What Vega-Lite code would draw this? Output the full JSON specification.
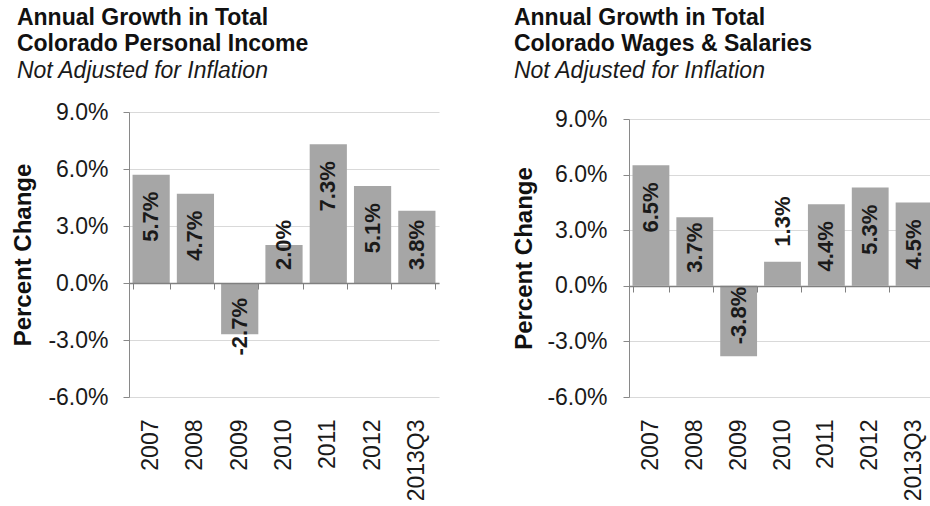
{
  "$schema": "https://vega.github.io/schema/vega-lite/v6.json",
  "padding": {"left": 11, "top": 7, "right": 0, "bottom": 0},
  "background": "white",
  "data": {"values": [
    {"panel": "income", "year": "2007", "value": 0.057},
    {"panel": "income", "year": "2008", "value": 0.047},
    {"panel": "income", "year": "2009", "value": -0.027},
    {"panel": "income", "year": "2010", "value": 0.020},
    {"panel": "income", "year": "2011", "value": 0.073},
    {"panel": "income", "year": "2012", "value": 0.051},
    {"panel": "income", "year": "2013Q3", "value": 0.038},
    {"panel": "wages", "year": "2007", "value": 0.065},
    {"panel": "wages", "year": "2008", "value": 0.037},
    {"panel": "wages", "year": "2009", "value": -0.038},
    {"panel": "wages", "year": "2010", "value": 0.013},
    {"panel": "wages", "year": "2011", "value": 0.044},
    {"panel": "wages", "year": "2012", "value": 0.053},
    {"panel": "wages", "year": "2013Q3", "value": 0.045}
  ]},
  "spacing": 73,
  "hconcat": [
    {
      "width": 310,
      "height": 285,
      "title": {"text": ["Annual Growth in Total", "Colorado Personal Income"], "subtitle": "Not Adjusted for Inflation", "anchor": "start", "frame": "bounds", "dx": 5, "offset": 18},
      "transform": [{"filter": "datum.panel === 'income'"}],
      "encoding": {
        "x": {"field": "year", "type": "nominal", "sort": null, "scale": {"paddingInner": 0.16, "paddingOuter": 0.08}, "axis": null},
        "y": {"field": "value", "type": "quantitative", "scale": {"domain": [-0.06, 0.09], "nice": false, "zero": false}, "axis": {"title": "Percent Change", "titleFontSize": 24, "titleFontWeight": "bold", "titleColor": "#111111", "titlePadding": 12, "values": [-0.06, -0.03, 0, 0.03, 0.06, 0.09], "format": ".1%", "labelFontSize": 23, "labelColor": "#1a1a1a", "labelPadding": 15, "tickSize": 6, "tickColor": "#898989", "domainColor": "#898989", "gridColor": "#d9d9d9", "grid": true, "zindex": 0}}
      },
      "layer": [
        {
          "mark": {"type": "bar", "color": "#a6a6a6"},
          "encoding": {
            "x": {"field": "year", "type": "nominal", "sort": null, "axis": {"orient": "bottom", "title": null, "labelAngle": -90, "labelFontSize": 23, "labelColor": "#1a1a1a", "ticks": false, "tickSize": 0, "domain": false, "grid": false, "labelPadding": 22}},
            "y2": {"datum": 0}
          }
        },
        {
          "transform": [{"filter": "datum.value >= 0.041"}],
          "mark": {"type": "text", "angle": 270, "align": "right", "baseline": "middle", "dx": -17, "fontSize": 22, "fontWeight": "bold", "color": "#1a1a1a"},
          "encoding": {
            "x": {"field": "year", "type": "nominal", "sort": null, "axis": {"orient": "bottom", "offset": -114, "labels": false, "title": null, "grid": false, "domain": true, "domainColor": "#808080", "domainWidth": 1.5, "ticks": true, "tickBand": "extent", "tickSize": 6, "tickColor": "#808080", "zindex": 2}},
            "text": {"field": "value", "type": "quantitative", "format": ".1%"}
          }
        },
        {
          "transform": [{"filter": "datum.value >= 0.015 && datum.value < 0.041"}],
          "mark": {"type": "text", "angle": 270, "align": "left", "baseline": "middle", "dx": 13, "fontSize": 22, "fontWeight": "bold", "color": "#1a1a1a"},
          "encoding": {
            "y": {"datum": 0, "type": "quantitative", "axis": {"title": "Percent Change", "titleFontSize": 24, "titleFontWeight": "bold", "titleColor": "#111111", "titlePadding": 12, "values": [-0.06, -0.03, 0, 0.03, 0.06, 0.09], "format": ".1%", "labelFontSize": 23, "labelColor": "#1a1a1a", "labelPadding": 15, "tickSize": 6, "tickColor": "#898989", "domainColor": "#898989", "gridColor": "#d9d9d9", "grid": true, "zindex": 0}},
            "text": {"field": "value", "type": "quantitative", "format": ".1%"}
          }
        },
        {
          "transform": [{"filter": "datum.value > 0 && datum.value < 0.015"}],
          "mark": {"type": "text", "angle": 270, "align": "left", "baseline": "middle", "dx": 15, "fontSize": 22, "fontWeight": "bold", "color": "#1a1a1a"},
          "encoding": {
            "text": {"field": "value", "type": "quantitative", "format": ".1%"}
          }
        },
        {
          "transform": [{"filter": "datum.value < 0 && datum.value > -0.03"}],
          "mark": {"type": "text", "angle": 270, "align": "right", "baseline": "middle", "dx": -15, "fontSize": 22, "fontWeight": "bold", "color": "#1a1a1a"},
          "encoding": {
            "y": {"datum": 0, "type": "quantitative", "axis": {"title": "Percent Change", "titleFontSize": 24, "titleFontWeight": "bold", "titleColor": "#111111", "titlePadding": 12, "values": [-0.06, -0.03, 0, 0.03, 0.06, 0.09], "format": ".1%", "labelFontSize": 23, "labelColor": "#1a1a1a", "labelPadding": 15, "tickSize": 6, "tickColor": "#898989", "domainColor": "#898989", "gridColor": "#d9d9d9", "grid": true, "zindex": 0}},
            "text": {"field": "value", "type": "quantitative", "format": ".1%"}
          }
        },
        {
          "transform": [{"filter": "datum.value <= -0.03"}],
          "mark": {"type": "text", "angle": 270, "align": "left", "baseline": "middle", "dx": 12, "fontSize": 22, "fontWeight": "bold", "color": "#1a1a1a"},
          "encoding": {
            "text": {"field": "value", "type": "quantitative", "format": ".1%"}
          }
        }
      ],
      "resolve": {"axis": {"x": "independent"}}
    },
    {
      "width": 307,
      "height": 285,
      "title": {"text": ["Annual Growth in Total", "Colorado Wages & Salaries"], "subtitle": "Not Adjusted for Inflation", "anchor": "start", "frame": "bounds", "dx": 1, "offset": 25},
      "transform": [{"filter": "datum.panel === 'wages'"}],
      "encoding": {
        "x": {"field": "year", "type": "nominal", "sort": null, "scale": {"paddingInner": 0.16, "paddingOuter": 0.08}, "axis": null},
        "y": {"field": "value", "type": "quantitative", "scale": {"domain": [-0.06, 0.09], "nice": false, "zero": false, "range": [285, 7]}, "axis": {"title": "Percent Change", "titleFontSize": 24, "titleFontWeight": "bold", "titleColor": "#111111", "titlePadding": 10, "values": [-0.06, -0.03, 0, 0.03, 0.06, 0.09], "format": ".1%", "labelFontSize": 23, "labelColor": "#1a1a1a", "labelPadding": 16, "tickSize": 6, "tickColor": "#898989", "domainColor": "#898989", "gridColor": "#d9d9d9", "grid": true, "zindex": 0}}
      },
      "layer": [
        {
          "mark": {"type": "bar", "color": "#a6a6a6"},
          "encoding": {
            "x": {"field": "year", "type": "nominal", "sort": null, "axis": {"orient": "bottom", "title": null, "labelAngle": -90, "labelFontSize": 23, "labelColor": "#1a1a1a", "ticks": false, "tickSize": 0, "domain": false, "grid": false, "labelPadding": 22}},
            "y2": {"datum": 0}
          }
        },
        {
          "transform": [{"filter": "datum.value >= 0.041"}],
          "mark": {"type": "text", "angle": 270, "align": "right", "baseline": "middle", "dx": -17, "fontSize": 22, "fontWeight": "bold", "color": "#1a1a1a"},
          "encoding": {
            "x": {"field": "year", "type": "nominal", "sort": null, "axis": {"orient": "bottom", "offset": -111, "labels": false, "title": null, "grid": false, "domain": true, "domainColor": "#808080", "domainWidth": 1.5, "ticks": true, "tickBand": "extent", "tickSize": 6, "tickColor": "#808080", "zindex": 2}},
            "text": {"field": "value", "type": "quantitative", "format": ".1%"}
          }
        },
        {
          "transform": [{"filter": "datum.value >= 0.015 && datum.value < 0.041"}],
          "mark": {"type": "text", "angle": 270, "align": "left", "baseline": "middle", "dx": 13, "fontSize": 22, "fontWeight": "bold", "color": "#1a1a1a"},
          "encoding": {
            "y": {"datum": 0, "type": "quantitative", "axis": {"title": "Percent Change", "titleFontSize": 24, "titleFontWeight": "bold", "titleColor": "#111111", "titlePadding": 10, "values": [-0.06, -0.03, 0, 0.03, 0.06, 0.09], "format": ".1%", "labelFontSize": 23, "labelColor": "#1a1a1a", "labelPadding": 16, "tickSize": 6, "tickColor": "#898989", "domainColor": "#898989", "gridColor": "#d9d9d9", "grid": true, "zindex": 0}},
            "text": {"field": "value", "type": "quantitative", "format": ".1%"}
          }
        },
        {
          "transform": [{"filter": "datum.value > 0 && datum.value < 0.015"}],
          "mark": {"type": "text", "angle": 270, "align": "left", "baseline": "middle", "dx": 15, "fontSize": 22, "fontWeight": "bold", "color": "#1a1a1a"},
          "encoding": {
            "text": {"field": "value", "type": "quantitative", "format": ".1%"}
          }
        },
        {
          "transform": [{"filter": "datum.value < 0 && datum.value > -0.03"}],
          "mark": {"type": "text", "angle": 270, "align": "right", "baseline": "middle", "dx": -15, "fontSize": 22, "fontWeight": "bold", "color": "#1a1a1a"},
          "encoding": {
            "y": {"datum": 0, "type": "quantitative", "axis": {"title": "Percent Change", "titleFontSize": 24, "titleFontWeight": "bold", "titleColor": "#111111", "titlePadding": 10, "values": [-0.06, -0.03, 0, 0.03, 0.06, 0.09], "format": ".1%", "labelFontSize": 23, "labelColor": "#1a1a1a", "labelPadding": 16, "tickSize": 6, "tickColor": "#898989", "domainColor": "#898989", "gridColor": "#d9d9d9", "grid": true, "zindex": 0}},
            "text": {"field": "value", "type": "quantitative", "format": ".1%"}
          }
        },
        {
          "transform": [{"filter": "datum.value <= -0.03"}],
          "mark": {"type": "text", "angle": 270, "align": "left", "baseline": "middle", "dx": 12, "fontSize": 22, "fontWeight": "bold", "color": "#1a1a1a"},
          "encoding": {
            "text": {"field": "value", "type": "quantitative", "format": ".1%"}
          }
        }
      ],
      "resolve": {"axis": {"x": "independent"}}
    }
  ],
  "config": {
    "font": "Liberation Sans",
    "view": {"stroke": null},
    "locale": {"number": {"decimal": ".", "thousands": ",", "grouping": [3], "currency": ["$", ""], "minus": "-"}},
    "title": {"font": "Liberation Sans", "fontSize": 23, "fontWeight": "bold", "color": "#111111", "lineHeight": 26, "subtitleFont": "Liberation Sans", "subtitleFontSize": 23, "subtitleFontStyle": "italic", "subtitleFontWeight": "normal", "subtitleColor": "#1a1a1a", "subtitlePadding": 4, "subtitleLineHeight": 26}
  }
}
